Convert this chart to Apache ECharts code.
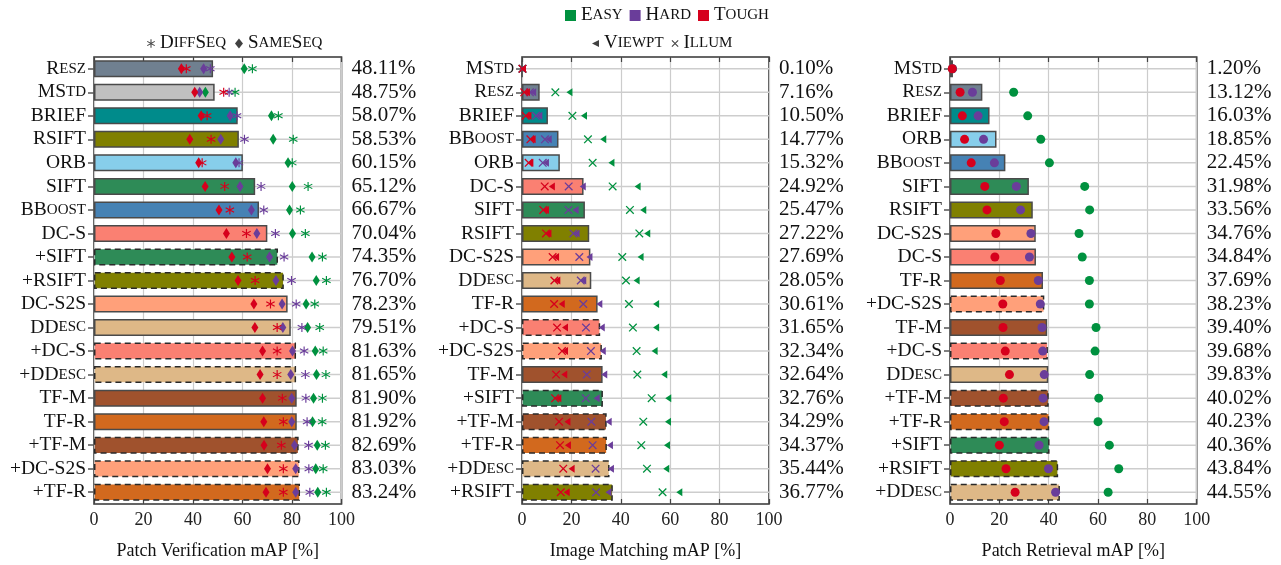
<!DOCTYPE html>
<html><head><meta charset="utf-8">
<script src="https://cdn.jsdelivr.net/npm/echarts@6/dist/echarts.min.js"></script>
<style>html,body{margin:0;padding:0;background:#fff}#c{width:1281px;height:565px}</style>
</head><body><div id="c"></div>
<script>
// ---------- Patch Verification ----------
const pvCats = ['Resz','MStd','BRIEF','RSIFT','ORB','SIFT','BBoost','DC-S','+SIFT','+RSIFT','DC-S2S','DDesc','+DC-S','+DDesc','TF-M','TF-R','+TF-M','+DC-S2S','+TF-R'];
const pvMap = [48.11,48.75,58.07,58.53,60.15,65.12,66.67,70.04,74.35,76.70,78.23,79.51,81.63,81.65,81.90,81.92,82.69,83.03,83.24];
const pvSameEasy  = [60.7,45.0,71.7,72.4,78.4,80.1,79.0,80.2,88.1,89.8,85.7,86.3,89.4,89.9,88.7,88.3,90.2,89.6,90.4];
const pvSameHard  = [44.3,42.7,55.0,51.2,57.3,59.0,63.6,65.8,70.9,73.5,76.0,76.3,80.2,79.5,79.9,79.9,81.0,81.5,81.5];
const pvSameTough = [35.3,40.7,43.3,38.7,42.3,44.9,50.5,53.5,55.7,58.2,64.6,65.0,68.1,67.1,68.1,68.6,68.7,70.1,69.5];
const pvDiffEasy  = [64.0,57.0,74.5,80.5,80.1,86.5,83.4,85.4,92.3,93.9,89.2,91.2,92.6,93.7,92.3,92.2,93.5,92.6,93.9];
const pvDiffHard  = [47.0,54.6,57.8,60.8,58.6,67.5,68.6,73.3,76.8,79.8,81.7,84.0,84.9,85.4,85.6,86.1,86.7,86.8,87.2];
const pvDiffTough = [37.3,52.4,45.7,47.3,43.7,52.8,54.9,61.6,61.9,65.1,71.3,74.0,74.0,74.0,76.1,76.5,75.7,76.5,76.5];

// ---------- Image Matching ----------
const imCats = ['MStd','Resz','BRIEF','BBoost','ORB','DC-S','SIFT','RSIFT','DC-S2S','DDesc','TF-R','+DC-S','+DC-S2S','TF-M','+SIFT','+TF-M','+TF-R','+DDesc','+RSIFT'];
const imMap = [0.10,7.16,10.50,14.77,15.32,24.92,25.47,27.22,27.69,28.05,30.61,31.65,32.34,32.64,32.76,34.29,34.37,35.44,36.77];
const imViewEasy   = [0.3,19.2,25.1,32.9,36.2,46.8,49.1,50.7,48.0,46.4,54.3,54.3,53.7,57.6,59.2,59.1,58.7,58.4,63.7];
const imViewHard   = [0.3,4.5,7.0,10.8,9.7,24.6,21.7,22.1,27.3,24.8,31.3,32.3,32.7,33.3,30.2,35.1,35.6,36.0,35.0];
const imViewTough  = [0.4,2.0,2.6,4.3,3.4,12.1,9.7,10.7,13.8,14.3,16.1,17.4,17.4,17.1,14.7,18.4,18.6,20.1,18.1];
const imIllumEasy  = [0.2,13.5,20.4,26.7,28.6,36.7,43.7,47.5,40.6,42.1,43.3,44.9,46.4,46.7,52.5,49.1,48.3,50.6,56.9];
const imIllumHard  = [0.2,3.2,5.7,9.3,8.4,18.9,18.8,20.8,23.2,23.8,24.8,25.9,27.9,26.2,25.8,28.1,28.6,29.8,30.0];
const imIllumTough = [0.2,0.9,1.5,3.4,2.7,9.2,8.6,9.7,12.4,13.1,13.0,14.2,16.2,13.8,13.4,15.0,15.4,16.7,15.7];

// ---------- Patch Retrieval ----------
const prCats = ['MStd','Resz','BRIEF','ORB','BBoost','SIFT','RSIFT','DC-S2S','DC-S','TF-R','+DC-S2S','TF-M','+DC-S','DDesc','+TF-M','+TF-R','+SIFT','+RSIFT','+DDesc'];
const prMap = [1.20,13.12,16.03,18.85,22.45,31.98,33.56,34.76,34.84,37.69,38.23,39.40,39.68,39.83,40.02,40.23,40.36,43.84,44.55];
const prEasy  = [1.0,25.8,31.5,36.8,40.3,54.6,56.6,52.3,53.6,56.5,56.5,59.2,58.8,56.6,60.3,60.0,64.6,68.4,64.1];
const prHard  = [1.0,9.1,11.4,13.6,18.0,26.9,28.6,32.8,32.2,35.8,36.6,37.3,37.6,38.2,37.7,38.1,36.1,39.9,42.8];
const prTough = [0.9,4.1,5.0,5.9,8.6,14.1,15.0,18.6,18.2,20.4,21.4,21.5,22.4,24.1,21.6,22.0,20.0,22.7,26.4];

const xTicks = [0,20,40,60,80,100];
const axisNames = ['Patch Verification mAP [%]','Image Matching mAP [%]','Patch Retrieval mAP [%]'];

// ---------- styles ----------
const FONT = '"Liberation Serif","Times New Roman",serif';
const methodColors = {Resz:'#708090', MStd:'#c0c0c0', BRIEF:'#008b8b', RSIFT:'#808000', ORB:'#87ceeb', SIFT:'#2e8b57', BBoost:'#4682b4', 'DC-S':'#fa8072', 'DC-S2S':'#ffa07a', DDesc:'#deb887', 'TF-M':'#a0522d', 'TF-R':'#d2691e'};
const C_EASY = '#00913f', C_HARD = '#6a3d9a', C_TOUGH = '#d6001c';
const ASTERISK = 'path://M-0.12,-1L0.12,-1L0.12,1L-0.12,1Z M0.806,0.604L-0.926,-0.396L-0.806,-0.604L0.926,0.396Z M0.926,-0.396L-0.806,0.604L-0.926,0.396L0.806,-0.604Z';
const CROSS = 'path://M0.88,1.12L-1.12,-0.88L-0.88,-1.12L1.12,0.88Z M1.12,-0.88L-0.88,1.12L-1.12,0.88L0.88,-1.12Z';
const TRI_LEFT = 'path://M1,-1L1,1L-1,0Z';

function sc(text, big, small) {
  let out = '', i = 0;
  while (i < text.length) {
    const low = /[a-z]/.test(text[i]);
    let j = i;
    while (j < text.length && /[a-z]/.test(text[j]) === low) j++;
    const seg = text.slice(i, j);
    out += low ? '{' + small + '|' + seg.toUpperCase() + '}' : '{' + big + '|' + seg + '}';
    i = j;
  }
  return out;
}

const panels = [
  {cats: pvCats, map: pvMap, left: 94, width: 247.5, markers: [
    {name:'Easy', sym:'diamond', size:[7,11], color:C_EASY, data:pvSameEasy},
    {name:'Hard', sym:'diamond', size:[7,11], color:C_HARD, data:pvSameHard},
    {name:'Tough', sym:'diamond', size:[7,11], color:C_TOUGH, data:pvSameTough},
    {name:'Easy', sym:ASTERISK, size:9, color:C_EASY, data:pvDiffEasy},
    {name:'Hard', sym:ASTERISK, size:9, color:C_HARD, data:pvDiffHard},
    {name:'Tough', sym:ASTERISK, size:9, color:C_TOUGH, data:pvDiffTough}]},
  {cats: imCats, map: imMap, left: 522, width: 247, markers: [
    {name:'Easy', sym:CROSS, size:8.5, color:C_EASY, data:imIllumEasy},
    {name:'Hard', sym:CROSS, size:8.5, color:C_HARD, data:imIllumHard},
    {name:'Tough', sym:CROSS, size:8.5, color:C_TOUGH, data:imIllumTough},
    {name:'Easy', sym:TRI_LEFT, size:[6,8], color:C_EASY, data:imViewEasy},
    {name:'Hard', sym:TRI_LEFT, size:[6,8], color:C_HARD, data:imViewHard},
    {name:'Tough', sym:TRI_LEFT, size:[6,8], color:C_TOUGH, data:imViewTough}]},
  {cats: prCats, map: prMap, left: 950, width: 246.7, markers: [
    {name:'Easy', sym:'circle', size:9, color:C_EASY, data:prEasy},
    {name:'Hard', sym:'circle', size:9, color:C_HARD, data:prHard},
    {name:'Tough', sym:'circle', size:9, color:C_TOUGH, data:prTough}]}
];

const grid = [], xAxis = [], yAxis = [], series = [];
const xMin = xTicks[0], xMax = xTicks[xTicks.length - 1], xStep = xTicks[1] - xTicks[0];
const richLab = {b:{fontSize:19.5, fontFamily:FONT, color:'#111'}, s:{fontSize:15, fontFamily:FONT, color:'#111'}};

panels.forEach((p, i) => {
  grid.push({left: p.left, width: p.width, top: 57, height: 455, show: true, borderColor: '#333', borderWidth: 1.6, backgroundColor: 'transparent'});
  xAxis.push({type:'value', gridIndex:i, min:xMin, max:xMax, interval:xStep, position:'bottom',
    axisLine:{show:false}, axisTick:{show:true, inside:true, length:5, lineStyle:{color:'#444', width:1.2}},
    splitLine:{show:true, lineStyle:{color:'#cccccc', width:1.2}},
    axisLabel:{fontFamily:FONT, fontSize:18, color:'#222', margin:7},
    name: axisNames[i], nameLocation:'middle', nameGap:38, nameTextStyle:{fontFamily:FONT, fontSize:18, color:'#111'}});
  xAxis.push({type:'value', gridIndex:i, min:xMin, max:xMax, interval:xStep, position:'top',
    axisLine:{show:false}, axisTick:{show:true, inside:true, length:5, lineStyle:{color:'#444', width:1.2}},
    splitLine:{show:false}, axisLabel:{show:false}});
  yAxis.push({type:'category', gridIndex:i, inverse:true, data:p.cats, position:'left',
    axisLine:{show:false}, axisTick:{show:false}, splitLine:{show:false},
    axisLabel:{interval:0, margin:8, formatter: v => sc(v, 'b', 's'), rich: richLab, fontFamily:FONT, fontSize:19.5}});
  yAxis.push({type:'category', gridIndex:i, inverse:true, position:'right', data: p.map.map(v => v.toFixed(2) + '%'),
    axisLine:{show:false}, axisTick:{show:true, interval:0, inside:true, alignWithLabel:true, length:6, lineStyle:{color:'#555', width:1.5}},
    splitLine:{show:false},
    axisLabel:{interval:0, margin:10, fontFamily:FONT, fontSize:21, color:'#111'}});
  const xi = 2 * i, yi = 2 * i;
  series.push({type:'custom', xAxisIndex:xi, yAxisIndex:yi, z:1, silent:true,
    data: p.cats.map((c, k) => [xMax, k]),
    renderItem: (params, api) => {
      const a = api.coord([xMin, api.value(1)]);
      const b = api.coord([api.value(0), api.value(1)]);
      return {type:'line', shape:{x1:a[0], y1:a[1], x2:b[0], y2:b[1]}, style:{stroke:'#cdcdcd', lineWidth:1.5}};
    }});
  series.push({type:'bar', name:'mAP' + i, xAxisIndex:xi, yAxisIndex:yi, z:2, barWidth:17, silent:true,
    data: p.map.map((v, k) => {
      const nm = p.cats[k];
      const dashed = nm[0] === '+';
      return {value: v, itemStyle: {color: methodColors[nm.replace('+', '')],
        borderColor: dashed ? '#2a2a2a' : '#4a4a4a', borderWidth: 1.5,
        borderType: dashed ? [6, 4] : 'solid'}};
    })});
  p.markers.forEach(m => {
    series.push({type:'scatter', name:m.name, xAxisIndex:xi, yAxisIndex:yi, z:3,
      symbol:m.sym, symbolSize:m.size, symbolKeepAspect:false,
      itemStyle:{color:m.color, opacity:1},
      data: m.data.map((v, k) => [v, k])});
  });
});

// dummy series for the marker-shape legends
[['DiffSeq', ASTERISK], ['SameSeq', 'diamond'], ['Viewpt', TRI_LEFT], ['Illum', CROSS]].forEach(([n, s]) => {
  series.push({type:'scatter', name:n, xAxisIndex:0, yAxisIndex:0, symbol:s, data:[], itemStyle:{color:'#111'}});
});

const legRich = {b:{fontSize:19, fontFamily:FONT, color:'#111'}, s:{fontSize:15, fontFamily:FONT, color:'#111'}};
const legend = [
  {data:[{name:'Easy', icon:'rect'}, {name:'Hard', icon:'rect'}, {name:'Tough', icon:'rect'}],
   left:560, top:1, itemWidth:11, itemHeight:11, itemGap:7, selectedMode:false,
   formatter: n => sc(n, 'b', 's'), textStyle:{fontFamily:FONT, fontSize:19, rich:legRich}},
  {data:[{name:'DiffSeq', icon:ASTERISK}, {name:'SameSeq', icon:'diamond'}],
   left:142, top:29, itemWidth:8, itemHeight:10, itemGap:9, selectedMode:false,
   formatter: n => sc(n, 'b', 's'), textStyle:{fontFamily:FONT, fontSize:19, rich:legRich}},
  {data:[{name:'Viewpt', icon:TRI_LEFT}, {name:'Illum', icon:CROSS}],
   left:587, top:29, itemWidth:7, itemHeight:8, itemGap:8, selectedMode:false,
   formatter: n => sc(n, 'b', 's'), textStyle:{fontFamily:FONT, fontSize:19, rich:legRich}}
];

const chart = echarts.init(document.getElementById('c'), null, {renderer:'canvas'});
chart.setOption({animation:false, backgroundColor:'#fff', textStyle:{fontFamily:FONT}, grid, xAxis, yAxis, series, legend});
</script>
</body></html>
